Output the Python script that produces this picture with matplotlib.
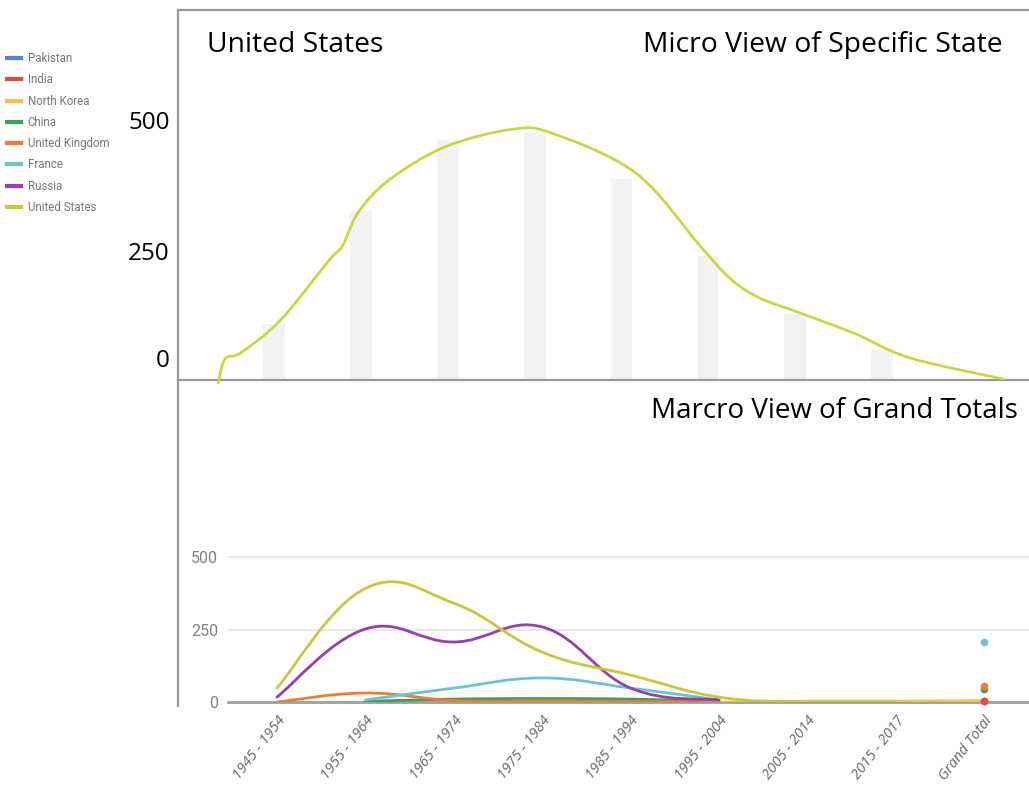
import numpy as np
import matplotlib.pyplot as plt
from matplotlib.path import Path
from matplotlib.patches import PathPatch
from matplotlib.lines import Line2D

plt.rcParams['font.family'] = ['Open Sans', 'DejaVu Sans']

W, H = 1029, 785

# top panel: United States per decade (bars) and the hand drawn trend over them
us_bars = [107, 322, 456, 471, 382, 235, 126, 59]
trend_x = [-0.644, -0.564, -0.38, 0.07, 0.63, 0.79, 0.97, 1.32, 1.96, 2.74,
           3.21, 4.17, 4.90, 5.25, 5.59, 6.05, 6.69, 7.32, 8.39]
trend_y = [-6, 40, 52, 113, 227, 256, 319, 380, 443, 477,
           469, 393, 256, 193, 156, 128, 88, 42, 2]

# bottom panel: all states
periods = ['1945 - 1954', '1955 - 1964', '1965 - 1974', '1975 - 1984', '1985 - 1994',
           '1995 - 2004', '2005 - 2014', '2015 - 2017', 'Grand Total']
nan = np.nan
pakistan = [nan, nan, nan, nan, nan, nan, nan, nan, 2]
india = [nan, nan, 1, 0, 0, 3, nan, nan, 4]
north_korea = [nan, nan, nan, nan, nan, 0, 3, 3, 5]
china = [nan, 2, 10, 12, 10, 2, nan, nan, 45]
uk = [0, 31, 5, 3, 2, 0, nan, nan, 55]
france = [nan, 7, 48, 83, 48, 7, nan, nan, 207]
russia = [17, 252, 207, 259, 48, 7, nan, nan, nan]
usa = [48, 392, 341, 172, 93, 17, 0, 0, nan]

names = ['Pakistan', 'India', 'North Korea', 'China', 'United Kingdom', 'France', 'Russia', 'United States']
series = [pakistan, india, north_korea, china, uk, france, russia, usa]
colors = ['#5b7fd6', '#d9503f', '#f2c14e', '#3f9e5a', '#f07b36', '#6cc3d0', '#9440ad', '#c6c840']


def box(x0, y0, x1, y1):
    return [x0 / W, 1 - y1 / H, (x1 - x0) / W, (y1 - y0) / H]


def smooth_line(ax, xs, ys, color, lw, k=1 / 6, clip=True):
    # catmull-rom style curve through the points, drawn as cubic bezier
    p = np.column_stack([xs, ys]).astype(float)
    n = len(p)
    verts = [p[0]]
    codes = [Path.MOVETO]
    for i in range(n - 1):
        a = p[max(i - 1, 0)]
        d = p[min(i + 2, n - 1)]
        c1 = p[i] + (p[i + 1] - a) * k
        c2 = p[i + 1] - (d - p[i]) * k
        verts += [c1, c2, p[i + 1]]
        codes += [Path.CURVE4] * 3
    ax.add_patch(PathPatch(Path(verts, codes), fill=False, edgecolor=color,
                           lw=lw, capstyle='round', clip_on=clip, zorder=3))


fig = plt.figure(figsize=(W / 100, H / 100), dpi=100)

# ---- top panel ----
top = fig.add_axes(box(178, 10, 1029, 380))
top.set_xlim(-1.105, 8.69)
top.set_ylim(0, 704)
top.bar(range(len(us_bars)), us_bars, width=0.25, color='#f2f2f2', zorder=1)
smooth_line(top, trend_x, trend_y, '#c9d53c', 1.9, clip=False)
top.spines['right'].set_visible(False)
for s in ['left', 'top', 'bottom']:
    top.spines[s].set_color('#999999')
    top.spines[s].set_linewidth(1.6)
top.set_xticks([])
top.set_yticks([])
for v in [500, 250]:
    top.annotate(str(v), (0, v), xycoords=('axes fraction', 'data'), xytext=(-6, -4),
                 textcoords='offset points', ha='right', va='center', fontsize=17.5)
top.annotate('0', (0, 0), xycoords=('axes fraction', 'data'), xytext=(-6, 5),
             textcoords='offset points', ha='right', va='bottom', fontsize=17.5)
fig.text(207 / W, 1 - 45 / H, 'United States', fontsize=20.3, va='center', ha='left')
fig.text(1003 / W, 1 - 45 / H, 'Micro View of Specific State', fontsize=20.3, va='center', ha='right')
fig.text(1018 / W, 1 - 411 / H, 'Marcro View of Grand Totals', fontsize=20, va='center', ha='right')

# left rule continues down past the lower panel
fig.add_artist(Line2D([178 / W, 178 / W], [1 - 380 / H, 1 - 706 / H], color='#999999', lw=1.6))

# ---- bottom panel ----
bot = fig.add_axes(box(228, 520, 1029, 702))
bot.set_xlim(-0.554, 8.507)
bot.set_ylim(0, 628)
for s in bot.spines.values():
    s.set_visible(False)
bot.set_yticks([0, 250, 500])
bot.set_yticklabels(['0', '250', '500'], fontsize=11.5, color='#808080', family=['Roboto', 'DejaVu Sans'])
bot.tick_params(axis='y', length=0, pad=7)
for v in [250, 500]:
    bot.axhline(v, color='#e8e8e8', lw=1.4, zorder=0)
bot.axhline(0, color='#9e9e9e', lw=2, zorder=1, clip_on=False)
bot.set_xticks(range(len(periods)))
bot.set_xticklabels(periods, rotation=52, ha='right', va='top', rotation_mode='anchor',
                    fontsize=10.5, color='#666666', fontstyle='italic')
bot.tick_params(axis='x', length=0, pad=8)

x = np.arange(len(periods))
for vals, c in zip(series, colors):
    vals = np.array(vals, dtype=float)
    ok = ~np.isnan(vals)
    # split into runs of consecutive values
    start = None
    for i in range(len(vals) + 1):
        if i < len(vals) and ok[i]:
            if start is None:
                start = i
        elif start is not None:
            if i - start > 1:
                smooth_line(bot, x[start:i], vals[start:i], c, 2.0, k=0.2)
            else:
                bot.plot(x[start], vals[start], 'o', color=c, ms=4.5, zorder=4, clip_on=False)
            start = None

# legend at far left
handles = [Line2D([], [], color=c, lw=3) for c in colors]
leg = fig.legend(handles, names, loc='upper left', bbox_to_anchor=(7 / W, 1 - 52 / H),
                 frameon=False, prop={'family': ['Roboto', 'DejaVu Sans'], 'size': 8.3},
                 handlelength=1.2, handletextpad=0.6,
                 labelspacing=0.72, borderpad=0, borderaxespad=0)
for t in leg.get_texts():
    t.set_color('#777777')

fig.savefig('out.png', dpi=100)
